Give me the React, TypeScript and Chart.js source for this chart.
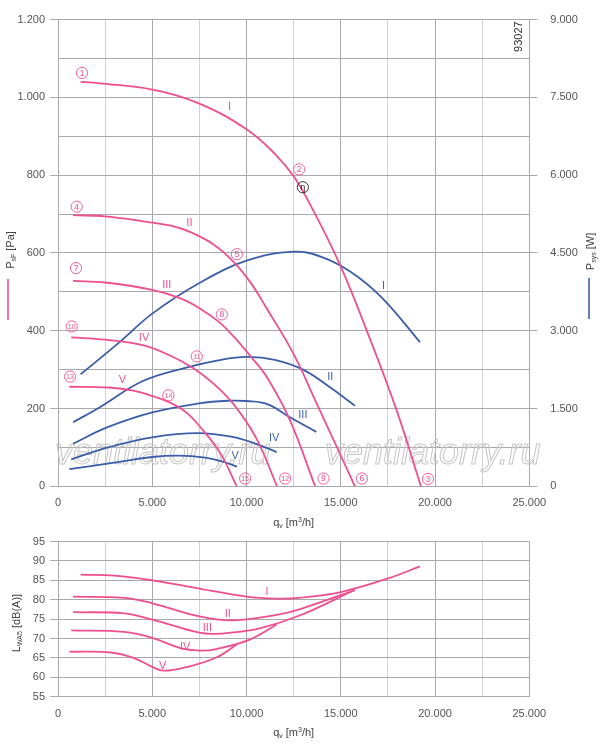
import React, { useEffect, useRef } from 'react';
import { Chart, registerables } from 'chart.js';

Chart.register(...registerables);

const FONT = '"Liberation Sans", Arial, Helvetica, sans-serif';
const PINK = '#ef4f90';
const BLUE = '#3c5ea9';
const GRID_MAJOR = '#a9a9a9';
const GRID_MINOR = '#d2d2d2';
const TICK_TEXT = '#555555';

// ---- Pressure curves P_sF [Pa] vs q_v [m3/h] ----
const pressureQ_I = [1200, 2500, 5000, 7500, 10000, 11500, 12500, 13500, 15000, 16500, 18000, 19250];
const pressurePa_I = [1040, 1035, 1020, 984, 918, 855, 797, 713, 565, 385, 190, 0];
const pressureQ_II = [800, 2500, 5000, 6000, 7000, 8250, 9300, 10200, 11000, 12500, 13700, 14800, 15750];
const pressurePa_II = [697, 694, 678, 670, 654, 622, 578, 525, 463, 340, 215, 100, 0];
const pressureQ_III = [800, 2500, 5000, 6500, 7500, 8500, 9300, 10200, 11100, 12300, 13640];
const pressurePa_III = [528, 524, 505, 483, 458, 424, 386, 335, 279, 170, 0];
const pressureQ_IV = [700, 2500, 4500, 6000, 7200, 8200, 9300, 10500, 11620];
const pressurePa_IV = [383, 377, 363, 335, 303, 266, 212, 125, 0];
const pressureQ_V = [600, 2700, 4000, 5200, 6000, 6800, 7500, 8600, 9480];
const pressurePa_V = [256, 254, 246, 229, 214, 190, 155, 86, 0];

// ---- Power curves P_sys [W] ----
const powerQ_I = [1200, 3300, 5000, 7500, 10000, 12500, 14000, 15500, 17200, 19200];
const powerW_I = [2160, 2790, 3330, 3920, 4350, 4525, 4420, 4140, 3630, 2780];
const powerQ_II = [800, 2200, 4500, 6800, 8500, 10000, 11500, 13000, 14500, 15750];
const powerW_II = [1235, 1520, 2030, 2290, 2430, 2495, 2440, 2250, 1890, 1555];
const powerQ_III = [800, 2600, 5000, 7500, 9000, 10000, 11100, 12300, 13700];
const powerW_III = [820, 1135, 1425, 1600, 1650, 1645, 1585, 1330, 1050];
const powerQ_IV = [700, 2700, 5000, 7400, 9300, 10500, 11600];
const powerW_IV = [520, 755, 945, 1025, 950, 820, 660];
const powerQ_V = [600, 2700, 5000, 6400, 7800, 8700, 9500];
const powerW_V = [330, 440, 565, 592, 555, 480, 378];

// ---- Sound power L_WA5 [dB(A)] ----
const noiseQ_I = [1200, 3000, 5000, 7500, 10000, 11600, 12800, 15000, 17500, 19200];
const noiseDb_I = [86.5, 86.2, 85.0, 82.9, 80.8, 80.3, 80.5, 82.0, 85.5, 88.6];
const noiseQ_II = [800, 3500, 5000, 7500, 9300, 11600, 12850, 15750];
const noiseDb_II = [80.8, 80.5, 79.1, 75.7, 74.7, 76.1, 77.6, 82.5];
const noiseQ_III = [800, 3500, 5000, 7500, 8300, 9300, 10700, 12850, 15600];
const noiseDb_III = [76.8, 76.5, 74.9, 71.5, 71.2, 71.6, 72.6, 76.0, 82.2];
const noiseQ_IV = [700, 3500, 5000, 6500, 7500, 8400, 10200, 11600];
const noiseDb_IV = [72.1, 71.7, 70.2, 67.5, 66.9, 67.3, 69.8, 73.6];
const noiseQ_V = [600, 2800, 4000, 5000, 5600, 6800, 8400, 9500];
const noiseDb_V = [66.6, 66.4, 65.0, 62.7, 61.7, 62.6, 65.1, 68.5];

const curveNames = ['I', 'II', 'III', 'IV', 'V'];

// ---- Axis ranges / ticks ----
const qMin = 0, qMax = 25000, qGridStep = 2500, qLabelStep = 5000;
const paMin = 0, paMax = 1200, paGridStep = 100, paLabelStep = 200;
const wMin = 0, wMax = 9000, wStep = 1500;
const dbMin = 55, dbMax = 95, dbStep = 5;

// ---- Annotations (data coordinates) ----
const pointMarks = ['1', '2', '3', '4', '5', '6', '7', '8', '9', '10', '11', '12', '13', '14', '15'];
const pointMarkQ = [1274, 12792, 19624, 993, 9486, 16120, 955, 8689, 14082, 727, 7362, 12049, 637, 5855, 9926];
const pointMarkPa = [1063, 815, 19, 719, 597, 20, 561, 442, 20, 411, 334, 20, 282, 234, 20];
const etaMarkQ = 12989;
const etaMarkPa = 769;
const pressureLabelQ = [9093, 6969, 5770, 4565, 3413];
const pressureLabelPa = [975, 676, 518, 381, 273];
const powerLabelQ = [17267, 14438, 12989, 11465, 9395];
const powerLabelW = [3863, 2106, 1375, 936, 584];
const noiseLabelQ = [11094, 9008, 7925, 6741, 5557];
const noiseLabelDb = [82.1, 76.3, 72.6, 67.8, 62.8];
const drawingNo = '93027';
const watermark = 'ventilatorry.ru';

const zip = (xs: number[], ys: number[]) => xs.map((x, i) => ({ x, y: ys[i] }));
const fmt = (v: number) => Math.round(v).toString().replace(/\B(?=(\d{3})+(?!\d))/g, '.');

type Part = { t: string; s: number; dy: number };
function rich(ctx: CanvasRenderingContext2D, parts: Part[], x: number, y: number, rot: number, color: string) {
  ctx.save();
  ctx.translate(x, y);
  ctx.rotate(rot);
  ctx.fillStyle = color;
  ctx.textAlign = 'left';
  ctx.textBaseline = 'alphabetic';
  let w = 0;
  for (const p of parts) {
    ctx.font = `${p.s}px ${FONT}`;
    w += ctx.measureText(p.t).width;
  }
  let cx = -w / 2;
  for (const p of parts) {
    ctx.font = `${p.s}px ${FONT}`;
    ctx.fillText(p.t, cx, p.dy);
    cx += ctx.measureText(p.t).width;
  }
  ctx.restore();
}

function label(ctx: CanvasRenderingContext2D, t: string, x: number, y: number, color: string, size = 11) {
  ctx.save();
  ctx.font = `${size}px ${FONT}`;
  ctx.fillStyle = color;
  ctx.textAlign = 'center';
  ctx.textBaseline = 'middle';
  ctx.fillText(t, x, y);
  ctx.restore();
}

function circled(ctx: CanvasRenderingContext2D, t: string, x: number, y: number, color: string) {
  ctx.save();
  ctx.strokeStyle = color;
  ctx.lineWidth = 0.9;
  ctx.beginPath();
  ctx.arc(x, y, 5.6, 0, Math.PI * 2);
  ctx.stroke();
  ctx.fillStyle = color;
  ctx.font = `${t.length > 1 ? 7 : 8.5}px ${FONT}`;
  ctx.textAlign = 'center';
  ctx.textBaseline = 'middle';
  ctx.fillText(t, x, y + 0.5);
  ctx.restore();
}

const qTitle: Part[] = [
  { t: 'q', s: 11, dy: 0 },
  { t: 'v', s: 7, dy: 2 },
  { t: ' [m', s: 11, dy: 0 },
  { t: '3', s: 7, dy: -4 },
  { t: '/h]', s: 11, dy: 0 },
];

const topDecor = {
  id: 'topDecor',
  beforeDatasetsDraw(chart: any) {
    const ctx: CanvasRenderingContext2D = chart.ctx;
    ctx.save();
    ctx.font = `italic 36px ${FONT}`;
    ctx.strokeStyle = '#c6c6c6';
    ctx.lineWidth = 1;
    ctx.textBaseline = 'alphabetic';
    ctx.strokeText(watermark, 55, 464);
    ctx.strokeText(watermark, 325, 464);
    ctx.restore();
  },
  afterDatasetsDraw(chart: any) {
    const ctx: CanvasRenderingContext2D = chart.ctx;
    const { x, yL, yR } = chart.scales;
    const ca = chart.chartArea;
    curveNames.forEach((n, i) => {
      label(ctx, n, x.getPixelForValue(pressureLabelQ[i]), yL.getPixelForValue(pressureLabelPa[i]), PINK);
      label(ctx, n, x.getPixelForValue(powerLabelQ[i]), yR.getPixelForValue(powerLabelW[i]), BLUE);
    });
    pointMarks.forEach((m, i) => {
      circled(ctx, m, x.getPixelForValue(pointMarkQ[i]), yL.getPixelForValue(pointMarkPa[i]), PINK);
    });
    const ex = x.getPixelForValue(etaMarkQ);
    const ey = yL.getPixelForValue(etaMarkPa);
    ctx.save();
    ctx.strokeStyle = '#222';
    ctx.lineWidth = 0.9;
    ctx.beginPath();
    ctx.arc(ex, ey, 5.6, 0, Math.PI * 2);
    ctx.stroke();
    ctx.restore();
    label(ctx, 'η', ex, ey + 0.5, '#222', 9);
    rich(ctx, [{ t: drawingNo, s: 11, dy: 0 }], ca.right - 7, ca.top + 17, -Math.PI / 2, '#333');
    rich(ctx, [{ t: 'P', s: 11, dy: 0 }, { t: 'sF', s: 7, dy: 2 }, { t: ' [Pa]', s: 11, dy: 0 }], 14, 250, -Math.PI / 2, '#444');
    rich(ctx, [{ t: 'P', s: 11, dy: 0 }, { t: 'sys', s: 7, dy: 2 }, { t: ' [W]', s: 11, dy: 0 }], 594, 251.5, -Math.PI / 2, '#444');
    rich(ctx, qTitle, (ca.left + ca.right) / 2, 526, 0, '#444');
    ctx.save();
    ctx.lineWidth = 1.6;
    ctx.strokeStyle = PINK;
    ctx.beginPath();
    ctx.moveTo(8, 279);
    ctx.lineTo(8, 320);
    ctx.stroke();
    ctx.strokeStyle = BLUE;
    ctx.beginPath();
    ctx.moveTo(589, 278);
    ctx.lineTo(589, 319);
    ctx.stroke();
    ctx.restore();
  },
};

const bottomDecor = {
  id: 'bottomDecor',
  afterDatasetsDraw(chart: any) {
    const ctx: CanvasRenderingContext2D = chart.ctx;
    const { x, y } = chart.scales;
    const ca = chart.chartArea;
    curveNames.forEach((n, i) => {
      label(ctx, n, x.getPixelForValue(noiseLabelQ[i]), y.getPixelForValue(noiseLabelDb[i]), PINK);
    });
    rich(ctx, [{ t: 'L', s: 11, dy: 0 }, { t: 'WA5', s: 7, dy: 2 }, { t: ' [dB(A)]', s: 11, dy: 0 }], 20, 93, -Math.PI / 2, '#444');
    rich(ctx, qTitle, (ca.left + ca.right) / 2, 205.5, 0, '#444');
  },
};

const qGridColor = (c: any) => (c.tick && c.tick.value % qLabelStep === 0 ? GRID_MAJOR : GRID_MINOR);

const lineDs = (data: { x: number; y: number }[], color: string, axis: string) => ({
  data,
  borderColor: color,
  backgroundColor: color,
  borderWidth: 1.8,
  pointRadius: 0,
  fill: false,
  tension: 0.4,
  yAxisID: axis,
});

export default function App() {
  const topRef = useRef<HTMLCanvasElement>(null);
  const botRef = useRef<HTMLCanvasElement>(null);

  useEffect(() => {
    Chart.defaults.font.family = FONT;
    Chart.defaults.font.size = 11;
    Chart.defaults.color = TICK_TEXT;

    const pressure = [
      zip(pressureQ_I, pressurePa_I),
      zip(pressureQ_II, pressurePa_II),
      zip(pressureQ_III, pressurePa_III),
      zip(pressureQ_IV, pressurePa_IV),
      zip(pressureQ_V, pressurePa_V),
    ];
    const power = [
      zip(powerQ_I, powerW_I),
      zip(powerQ_II, powerW_II),
      zip(powerQ_III, powerW_III),
      zip(powerQ_IV, powerW_IV),
      zip(powerQ_V, powerW_V),
    ];
    const noise = [
      zip(noiseQ_I, noiseDb_I),
      zip(noiseQ_II, noiseDb_II),
      zip(noiseQ_III, noiseDb_III),
      zip(noiseQ_IV, noiseDb_IV),
      zip(noiseQ_V, noiseDb_V),
    ];

    const top = new Chart(topRef.current as HTMLCanvasElement, {
      type: 'line',
      data: {
        datasets: [
          ...pressure.map((d) => lineDs(d, PINK, 'yL')),
          ...power.map((d) => lineDs(d, BLUE, 'yR')),
        ] as any,
      },
      options: {
        animation: false,
        responsive: false,
        events: [],
        layout: { padding: { top: 15, left: 0, right: 0, bottom: 0 }, autoPadding: false },
        plugins: { legend: { display: false }, tooltip: { enabled: false } },
        scales: {
          x: {
            type: 'linear',
            min: qMin,
            max: qMax,
            ticks: {
              stepSize: qGridStep,
              autoSkip: false,
              maxRotation: 0,
              padding: 10,
              callback: (v: any) => (v % qLabelStep === 0 ? fmt(v) : ''),
            },
            grid: { color: qGridColor, drawTicks: false, lineWidth: 1 },
            border: { display: false },
            afterFit: (s: any) => {
              s.height = 43.7;
            },
          },
          yL: {
            type: 'linear',
            position: 'left',
            min: paMin,
            max: paMax,
            ticks: {
              stepSize: paGridStep,
              padding: 5,
              autoSkip: false,
              callback: (v: any) => (v % paLabelStep === 0 ? fmt(v) : ''),
            },
            grid: {
              color: GRID_MAJOR,
              lineWidth: 1,
              tickLength: 8,
              tickColor: (c: any) => (c.tick && c.tick.value % paLabelStep === 0 ? GRID_MAJOR : 'rgba(0,0,0,0)'),
            },
            border: { display: false },
            afterFit: (s: any) => {
              s.width = 58;
            },
          },
          yR: {
            type: 'linear',
            position: 'right',
            min: wMin,
            max: wMax,
            ticks: { stepSize: wStep, padding: 13, autoSkip: false, callback: (v: any) => fmt(v) },
            grid: { drawOnChartArea: false, tickLength: 8, color: GRID_MAJOR, tickColor: GRID_MAJOR },
            border: { display: false },
            afterFit: (s: any) => {
              s.width = 70.7;
            },
          },
        },
      } as any,
      plugins: [topDecor],
    });

    const bottom = new Chart(botRef.current as HTMLCanvasElement, {
      type: 'line',
      data: { datasets: noise.map((d) => lineDs(d, PINK, 'y')) as any },
      options: {
        animation: false,
        responsive: false,
        events: [],
        layout: { padding: { top: 9, left: 0, right: 70.7, bottom: 0 }, autoPadding: false },
        plugins: { legend: { display: false }, tooltip: { enabled: false } },
        scales: {
          x: {
            type: 'linear',
            min: qMin,
            max: qMax,
            ticks: {
              stepSize: qGridStep,
              autoSkip: false,
              maxRotation: 0,
              padding: 11,
              callback: (v: any) => (v % qLabelStep === 0 ? fmt(v) : ''),
            },
            grid: { color: qGridColor, drawTicks: false, lineWidth: 1 },
            border: { display: false },
            afterFit: (s: any) => {
              s.height = 50.3;
            },
          },
          y: {
            type: 'linear',
            position: 'left',
            min: dbMin,
            max: dbMax,
            ticks: { stepSize: dbStep, padding: 5, autoSkip: false },
            grid: { color: GRID_MAJOR, lineWidth: 1, tickLength: 8, tickColor: GRID_MAJOR },
            border: { display: false },
            afterFit: (s: any) => {
              s.width = 58;
            },
          },
        },
      } as any,
      plugins: [bottomDecor],
    });

    return () => {
      top.destroy();
      bottom.destroy();
    };
  }, []);

  return (
    <div style={{ position: 'absolute', left: 0, top: 0, width: 600, height: 747, background: '#fff', overflow: 'hidden' }}>
      <canvas ref={topRef} width={600} height={530} style={{ display: 'block', width: 600, height: 530 }} />
      <canvas ref={botRef} width={600} height={217} style={{ display: 'block', width: 600, height: 217 }} />
    </div>
  );
}
